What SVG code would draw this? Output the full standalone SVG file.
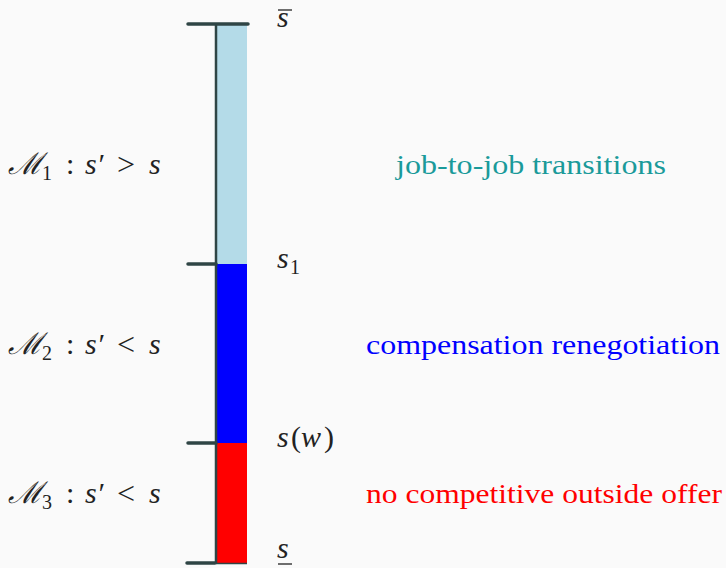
<svg xmlns="http://www.w3.org/2000/svg" width="726" height="568" viewBox="0 0 726 568">
<defs>
<line id="tickline" x1="0" y1="0" x2="28" y2="0" stroke="#2f4545" stroke-width="3.5" stroke-linecap="round"/>
</defs>
<rect width="726" height="568" fill="#fafafa"/>
<g id="bar">
<rect x="217" y="24" width="30" height="240" fill="#b4dbe8"/>
<rect x="217" y="264" width="30" height="179" fill="#0000ff"/>
<rect x="217" y="443" width="30" height="120" fill="#ff0000"/>
</g>
<g id="connectors">
<line x1="216" y1="24" x2="216" y2="564" stroke="#2f4545" stroke-width="2.5"/>
<line x1="188" y1="24" x2="248" y2="24" stroke="#2f4545" stroke-width="3.5" stroke-linecap="round"/>
<use href="#tickline" x="188" y="264"/>
<use href="#tickline" x="188" y="443"/>
<use href="#tickline" x="187" y="563"/>
<line x1="216" y1="563.5" x2="247" y2="563.5" stroke="#2f4545" stroke-width="1.5"/>
</g>
<g id="tick-labels" fill="#222">
<text font-family="Liberation Serif" font-style="italic" font-size="30" x="277" y="27">s</text>
<line x1="278" y1="10" x2="292" y2="10" stroke="#222" stroke-width="1.3"/>
<text font-family="Liberation Serif" font-style="italic" font-size="30" x="277" y="268">s</text>
<text font-family="Liberation Serif" font-size="20" x="290" y="274">1</text>
<text font-family="Liberation Serif" font-style="italic" font-size="30" x="277" y="447">s</text>
<text font-family="Liberation Serif" font-size="30" x="291" y="447">(</text>
<text font-family="Liberation Serif" font-style="italic" font-size="30" x="301" y="447">w</text>
<text font-family="Liberation Serif" font-size="30" x="324" y="447">)</text>
<text font-family="Liberation Serif" font-style="italic" font-size="30" x="277" y="558">s</text>
<line x1="278" y1="564" x2="292" y2="564" stroke="#222" stroke-width="1.3"/>
</g>
<g id="M1" fill="#222">
<text font-family="Liberation Serif" font-style="italic" font-size="30" x="8" y="174">ℳ</text>
<text font-family="Liberation Serif" font-size="20" x="42" y="180">1</text>
<text font-family="Liberation Serif" font-size="30" x="66" y="174">:</text>
<text font-family="Liberation Serif" font-style="italic" font-size="30" x="85" y="174">s′</text>
<text font-family="Liberation Serif" font-size="32" x="117" y="175">&gt;</text>
<text font-family="Liberation Serif" font-style="italic" font-size="30" x="149" y="174">s</text>
<text font-family="Liberation Serif" font-size="27" x="396" y="174" fill="#1a9a9a" textLength="270" lengthAdjust="spacingAndGlyphs">job-to-job transitions</text>
</g>
<g id="M2" fill="#222">
<text font-family="Liberation Serif" font-style="italic" font-size="30" x="8" y="354">ℳ</text>
<text font-family="Liberation Serif" font-size="20" x="42" y="360">2</text>
<text font-family="Liberation Serif" font-size="30" x="66" y="354">:</text>
<text font-family="Liberation Serif" font-style="italic" font-size="30" x="85" y="354">s′</text>
<text font-family="Liberation Serif" font-size="32" x="117" y="355">&lt;</text>
<text font-family="Liberation Serif" font-style="italic" font-size="30" x="149" y="354">s</text>
<text font-family="Liberation Serif" font-size="27" x="366" y="354" fill="#0000ff" textLength="354" lengthAdjust="spacingAndGlyphs">compensation renegotiation</text>
</g>
<g id="M3" fill="#222">
<text font-family="Liberation Serif" font-style="italic" font-size="30" x="8" y="503">ℳ</text>
<text font-family="Liberation Serif" font-size="20" x="42" y="509">3</text>
<text font-family="Liberation Serif" font-size="30" x="66" y="503">:</text>
<text font-family="Liberation Serif" font-style="italic" font-size="30" x="85" y="503">s′</text>
<text font-family="Liberation Serif" font-size="32" x="117" y="504">&lt;</text>
<text font-family="Liberation Serif" font-style="italic" font-size="30" x="149" y="503">s</text>
<text font-family="Liberation Serif" font-size="27" x="366" y="503" fill="#ff0000" textLength="356" lengthAdjust="spacingAndGlyphs">no competitive outside offer</text>
</g>
</svg>
